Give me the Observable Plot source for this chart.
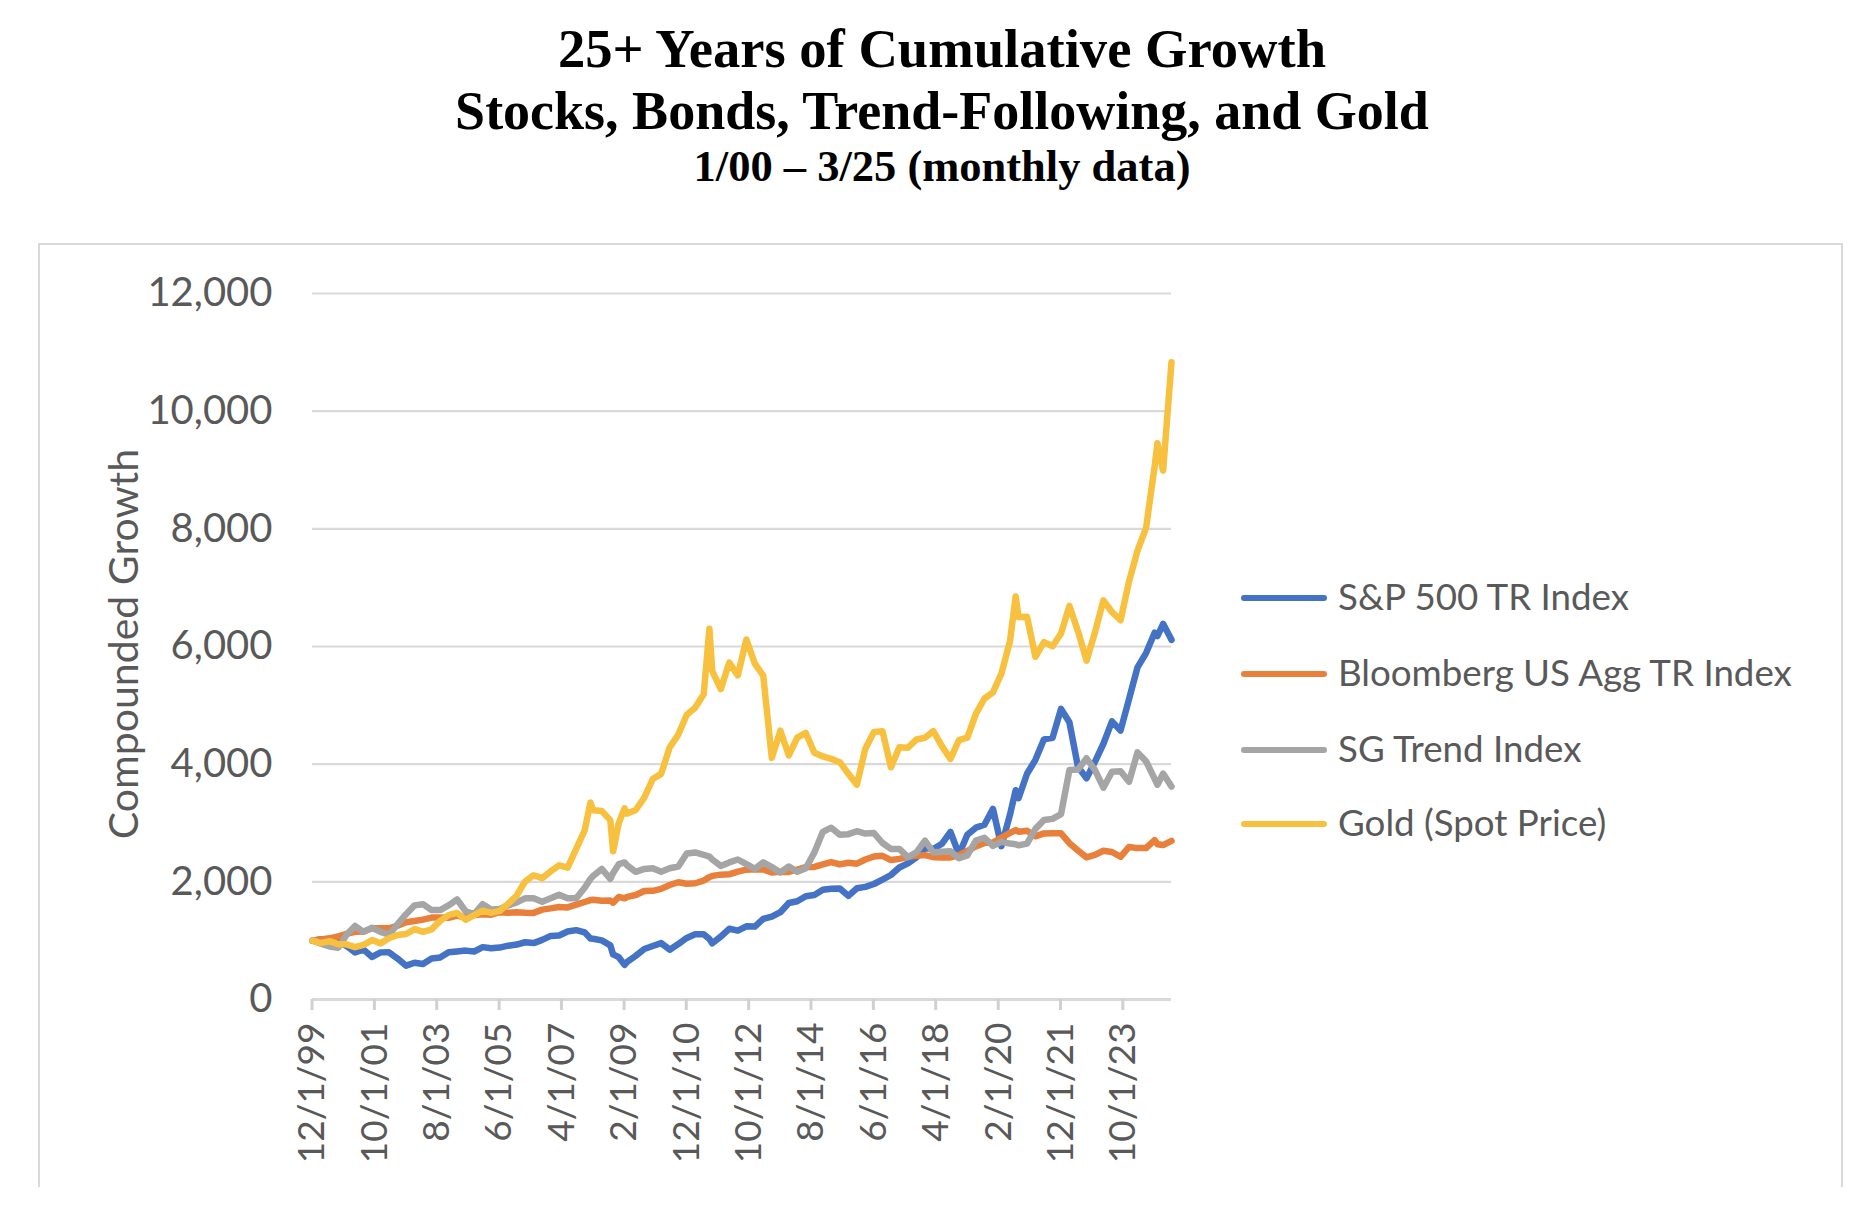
<!DOCTYPE html>
<html>
<head>
<meta charset="utf-8">
<script src="https://cdn.jsdelivr.net/npm/d3@7"></script>
<script src="https://cdn.jsdelivr.net/npm/@observablehq/plot@0.6"></script>
<style>
  html, body { margin: 0; padding: 0; background: #fff; }
  body { width: 1860px; height: 1216px; position: relative; overflow: hidden; }
  .title { position: absolute; left: 39px; width: 1806px; text-align: center; font-family: "Liberation Serif", "Times New Roman", serif; font-weight: bold; color: #000; white-space: nowrap; }
  #frame { position: absolute; left: 38px; top: 243px; width: 1805px; height: 944px; border-top: 2px solid #d9d9d9; border-left: 2px solid #d9d9d9; border-right: 2px solid #d9d9d9; box-sizing: border-box; }
  #chart { position: absolute; left: 39px; top: 244px; }
  #ytitle { position: absolute; left: 122px; top: 644px; transform: translate(-50%, -50%) rotate(-90deg); font-family: Lato, sans-serif; font-size: 41px; color: #595959; white-space: nowrap; }
  .leg { position: absolute; left: 1241px; font-family: Lato, sans-serif; font-size: 36.7px; color: #595959; white-space: nowrap; height: 0; }
  .leg .sw { position: absolute; left: 0; top: -3px; width: 86px; height: 6px; border-radius: 3px; }
  .leg .tx { position: absolute; left: 97px; top: 0; transform: translateY(-54%); line-height: 1; }
</style>
</head>
<body>
<div class="title" style="top:22px;font-size:54.6px;line-height:54.6px;">25+ Years of Cumulative Growth</div>
<div class="title" style="top:84px;font-size:54px;line-height:54px;">Stocks, Bonds, Trend-Following, and Gold</div>
<div class="title" style="top:144px;font-size:44.5px;line-height:44.5px;">1/00 – 3/25 (monthly data)</div>
<div id="frame"></div>
<div id="chart"></div>
<div id="ytitle">Compounded Growth</div>
<div id="legend"></div>
<script>
// ---- data (month, growth of $1,000) ----
const months = ["1999-12","2000-03","2000-06","2000-09","2000-12","2001-03","2001-06","2001-09","2001-12","2002-03","2002-06","2002-09","2002-12","2003-03","2003-06","2003-09","2003-12","2004-03","2004-06","2004-09","2004-12","2005-03","2005-06","2005-09","2005-12","2006-03","2006-06","2006-09","2006-12","2007-03","2007-06","2007-09","2007-12","2008-02","2008-03","2008-06","2008-09","2008-10","2008-12","2009-02","2009-03","2009-06","2009-09","2009-12","2010-03","2010-06","2010-09","2010-12","2011-03","2011-06","2011-08","2011-09","2011-12","2012-03","2012-06","2012-09","2012-12","2013-03","2013-06","2013-09","2013-12","2014-03","2014-06","2014-09","2014-12","2015-03","2015-06","2015-09","2015-12","2016-03","2016-06","2016-09","2016-12","2017-03","2017-06","2017-09","2017-12","2018-03","2018-06","2018-09","2018-12","2019-03","2019-06","2019-09","2019-12","2020-03","2020-06","2020-08","2020-09","2020-12","2021-03","2021-06","2021-09","2021-12","2022-03","2022-06","2022-09","2022-12","2023-03","2023-06","2023-09","2023-12","2024-03","2024-06","2024-09","2024-10","2024-12","2025-03"];

const sp500 = [1000,1023,996,986,909,801,848,723,801,803,696,575,624,604,697,715,803,817,831,816,890,871,883,915,934,973,959,1013,1081,1088,1156,1179,1141,1037,1033,1005,921,766,719,588,640,742,858,909,958,847,942,1046,1108,1109,1028,955,1068,1202,1170,1244,1239,1370,1410,1484,1640,1669,1756,1776,1864,1882,1887,1761,1890,1915,1963,2038,2116,2244,2314,2418,2578,2558,2646,2850,2465,2801,2921,2970,3241,2606,3141,3556,3421,3837,4073,4422,4447,4939,4712,3954,3761,4044,4347,4727,4572,5107,5646,5888,6235,6178,6385,6113];

const bondAgg = [1000,1022,1040,1071,1116,1150,1157,1210,1210,1211,1256,1313,1334,1358,1392,1392,1389,1427,1392,1437,1449,1442,1485,1475,1484,1474,1472,1528,1549,1573,1565,1612,1657,1690,1694,1677,1684,1645,1744,1720,1745,1776,1843,1847,1880,1946,1993,1968,1976,2021,2080,2101,2122,2128,2173,2207,2213,2211,2158,2170,2168,2207,2250,2253,2297,2335,2296,2325,2309,2379,2430,2442,2370,2390,2424,2445,2454,2419,2415,2415,2454,2526,2602,2660,2668,2752,2832,2880,2850,2869,2773,2823,2825,2825,2657,2533,2416,2457,2528,2507,2426,2593,2573,2575,2708,2640,2625,2695];

const sgTrend = [1000,950,900,880,1100,1250,1150,1220,1150,1100,1280,1450,1600,1620,1520,1520,1600,1700,1500,1450,1620,1530,1540,1600,1650,1720,1720,1660,1720,1780,1720,1720,1900,2050,2100,2220,2050,2150,2300,2330,2280,2170,2220,2230,2170,2230,2260,2480,2500,2460,2430,2380,2270,2330,2380,2300,2220,2330,2250,2160,2260,2170,2230,2500,2850,2920,2800,2810,2860,2820,2830,2660,2560,2560,2420,2500,2700,2500,2510,2520,2400,2450,2700,2750,2610,2680,2650,2640,2620,2650,2900,3050,3070,3150,3900,3910,4100,3900,3600,3870,3880,3700,4200,4050,3750,3650,3840,3620];

const gold = [1000,958,992,941,937,889,930,1010,954,1040,1096,1113,1196,1151,1192,1337,1433,1471,1354,1433,1509,1471,1505,1630,1767,2005,2112,2064,2177,2281,2240,2560,2873,3349,3218,3204,3049,2519,2997,3249,3160,3221,3432,3748,3835,4286,4503,4841,4958,5189,6300,5581,5275,5726,5509,6119,5709,5506,4107,4569,4148,4451,4531,4193,4131,4090,4034,3838,3652,4262,4548,4558,3948,4286,4279,4420,4448,4561,4307,4090,4407,4451,4855,5116,5220,5540,6091,6850,6501,6505,5826,6074,6005,6222,6691,6260,5760,6243,6784,6587,6446,7104,7628,8017,9062,9454,8992,10830];

const seriesNames = ["S&P 500 TR Index", "Bloomberg US Agg TR Index", "SG Trend Index", "Gold (Spot Price)"];
const seriesColors = ["#4472C4", "#E8803B", "#A5A5A5", "#F7C13F"];
const seriesValues = [sp500, bondAgg, sgTrend, gold];

const yTicks = [0, 2000, 4000, 6000, 8000, 10000, 12000];
const xTickMonths = ["1999-12","2001-10","2003-08","2005-06","2007-04","2009-02","2010-12","2012-10","2014-08","2016-06","2018-04","2020-02","2021-12","2023-10"];
const xTickLabels = ["12/1/99","10/1/01","8/1/03","6/1/05","4/1/07","2/1/09","12/1/10","10/1/12","8/1/14","6/1/16","4/1/18","2/1/20","12/1/21","10/1/23"];

// ---- build ----
const parse = d3.utcParse("%Y-%m");
const dates = months.map(parse);
const rows = [];
seriesValues.forEach((vals, s) => vals.forEach((v, i) => rows.push({date: dates[i], value: v, series: seriesNames[s]})));
const xTickDates = xTickMonths.map(parse);
const labelOf = new Map(xTickDates.map((d, i) => [+d, xTickLabels[i]]));

const chart = Plot.plot({
  width: 1806,
  height: 943,
  marginLeft: 273,
  marginRight: 674,
  marginTop: 49,
  marginBottom: 188,
  style: {fontFamily: "Lato, sans-serif", fontSize: "37px", color: "#595959", background: "transparent", overflow: "visible"},
  x: {type: "utc", domain: [parse("1999-12"), parse("2025-03")]},
  y: {domain: [0, 12000]},
  color: {domain: seriesNames, range: seriesColors},
  marks: [
    Plot.gridY(yTicks, {stroke: "#d9d9d9", strokeOpacity: 1, strokeWidth: 2.2}),
    Plot.ruleY([0], {stroke: "#d9d9d9", strokeWidth: 3}),
    Plot.axisY(yTicks, {tickSize: 0, tickPadding: 40, tickFormat: d3.format(","), fontSize: 40, label: null}),
    Plot.axisX(xTickDates, {tickSize: 0, tickRotate: -90, tickPadding: 23, tickFormat: d => labelOf.get(+d), fontSize: 37, label: null}),
    Plot.lineY(rows, {x: "date", y: "value", z: "series", stroke: "series", strokeWidth: 6.5, strokeLinejoin: "round", strokeLinecap: "round"})
  ]
});
document.getElementById("chart").appendChild(chart);

// tick marks below the axis, positioned with the chart's own x scale
const sx = chart.scale("x");
const sy = chart.scale("y");
const ns = "http://www.w3.org/2000/svg";
const g = document.createElementNS(ns, "g");
xTickDates.forEach(d => {
  const l = document.createElementNS(ns, "line");
  const xp = sx.apply(d), yp = sy.apply(0);
  l.setAttribute("x1", xp); l.setAttribute("x2", xp);
  l.setAttribute("y1", yp); l.setAttribute("y2", yp + 11);
  l.setAttribute("stroke", "#d0d0d0"); l.setAttribute("stroke-width", 3);
  g.appendChild(l);
});
chart.appendChild(g);

// legend
const legend = document.getElementById("legend");
const legTops = [598, 674, 750, 824];
seriesNames.forEach((n, i) => {
  const d = document.createElement("div");
  d.className = "leg";
  d.style.top = legTops[i] + "px";
  d.innerHTML = `<span class="sw" style="background:${seriesColors[i]}"></span><span class="tx"></span>`;
  d.querySelector(".tx").textContent = n;
  legend.appendChild(d);
});
</script>
</body>
</html>
